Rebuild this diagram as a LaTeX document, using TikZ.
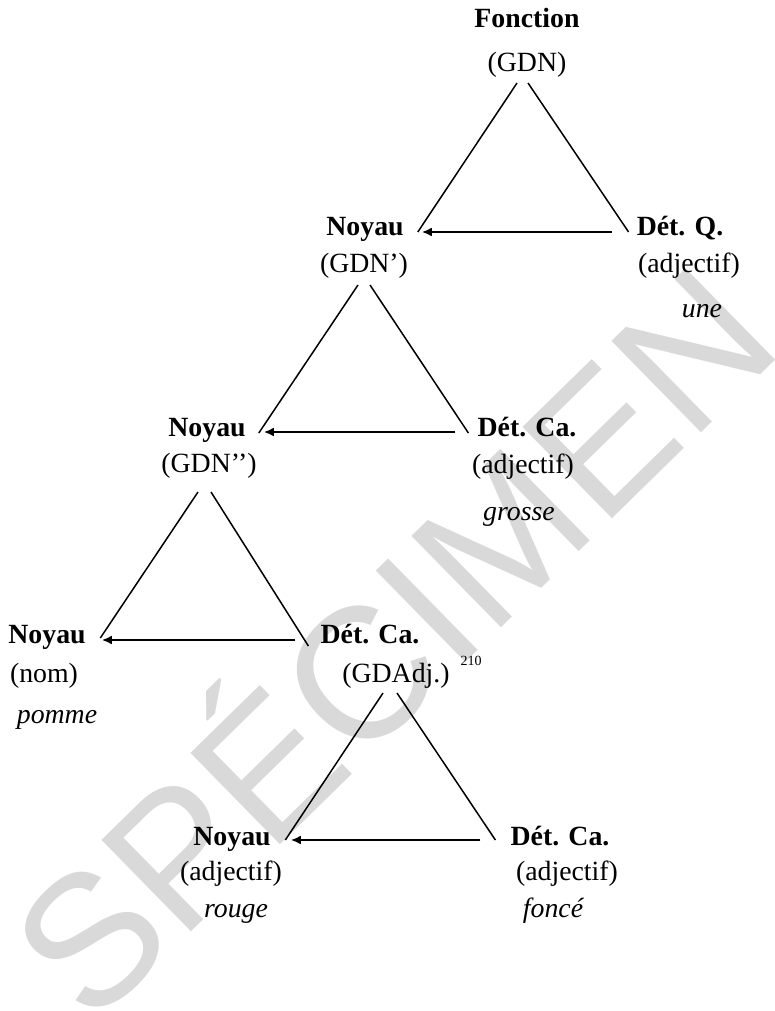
\documentclass[tikz,border=0pt]{standalone}
\usepackage{fontspec}
\setmainfont{Liberation Serif}
\newfontfamily\wmfont{Liberation Sans}
\usetikzlibrary{arrows.meta,calc}
\newcommand{\fsz}{\fontsize{27.8}{33}\selectfont}
\tikzset{
  bl/.style={font=\fsz\bfseries, anchor=base, inner sep=0pt},
  rg/.style={font=\fsz, anchor=base, inner sep=0pt},
  it/.style={font=\fsz\itshape, anchor=base, inner sep=0pt},
  edge/.style={line width=1.5pt},
  headarrow/.style={line width=2.4pt, -{Latex[length=10pt,width=9pt]}},
}
\begin{document}
\begin{tikzpicture}[x=1pt,y=-1pt]
\useasboundingbox (0,0) rectangle (775,1011);
% watermark
\node[font=\wmfont\fontsize{186}{186}\selectfont, text=gray!30, rotate=44.4, inner sep=0pt, anchor=base] (wm) at (439,689) {SPÉCIMEN};
% level 0
\node[bl] (fonction) at (527,28) {Fonction};
\node[rg] (gdn) at (527,72) {(GDN)};
% level 1
\node[bl] (noyauA) at (365,235) {Noyau};
\node[rg] (gdnA) at (364,272) {(GDN’)};
\node[bl] (detQ) at (680,235) {Dét. Q.};
\node[rg] (adjQ) at (689,272) {(adjectif)};
\node[it] (une) at (702,317) {une};
% level 2
\node[bl] (noyauB) at (207,436) {Noyau};
\node[rg] (gdnB) at (209,472) {(GDN’’)};
\node[bl] (detB) at (527,436) {Dét. Ca.};
\node[rg] (adjB) at (523,473) {(adjectif)};
\node[it] (grosse) at (519,520) {grosse};
% level 3
\node[bl] (noyauC) at (47,643) {Noyau};
\node[rg] (nom) at (44,682) {(nom)};
\node[it] (pomme) at (57,723) {pomme};
\node[bl] (detC) at (370,643) {Dét. Ca.};
\node[rg] (gdadj) at (396,682) {(GDAdj.)};
\node[font=\fontsize{14}{16}\selectfont, anchor=base, inner sep=0pt] (note) at (471,665) {210};
% level 4
\node[bl] (noyauD) at (232,845) {Noyau};
\node[rg] (adjD) at (231,880) {(adjectif)};
\node[it] (rouge) at (236,917) {rouge};
\node[bl] (detD) at (560,845) {Dét. Ca.};
\node[rg] (adjE) at (567,880) {(adjectif)};
\node[it] (fonce) at (553,917) {foncé};
% triangle 1
\draw[edge] ($(gdn.base)+(-10,11)$) -- ($(noyauA.base east)+(14,-3)$);
\draw[edge] ($(gdn.base)+(1,11)$) -- ($(detQ.base west)+(-8,-3)$);
\draw[headarrow] ($(detQ.base west)+(-25,-3)$) -- ($(noyauA.base east)+(18,-3)$);
% triangle 2
\draw[edge] ($(gdnA.base)+(-6,13)$) -- ($(noyauB.base east)+(13,-3)$);
\draw[edge] ($(gdnA.base)+(6,13)$) -- ($(detB.base west)+(-9,-3)$);
\draw[headarrow] ($(detB.base west)+(-22,-4)$) -- ($(noyauB.base east)+(18,-4)$);
% triangle 3
\draw[edge] ($(gdnB.base)+(-11,20)$) -- ($(noyauC.base east)+(14.5,-5)$);
\draw[edge] ($(gdnB.base)+(2,20)$) -- ($(detC.base west)+(-12,3)$);
\draw[headarrow] ($(detC.base west)+(-25,-3)$) -- ($(noyauC.base east)+(16,-3)$);
% triangle 4
\draw[edge] ($(gdadj.base)+(-13,11)$) -- ($(noyauD.base east)+(14.5,-5)$);
\draw[edge] ($(gdadj.base)+(1,11)$) -- ($(detD.base west)+(-15,-5)$);
\draw[headarrow] ($(detD.base west)+(-30,-5)$) -- ($(noyauD.base east)+(20,-5)$);
\end{tikzpicture}
\end{document}
